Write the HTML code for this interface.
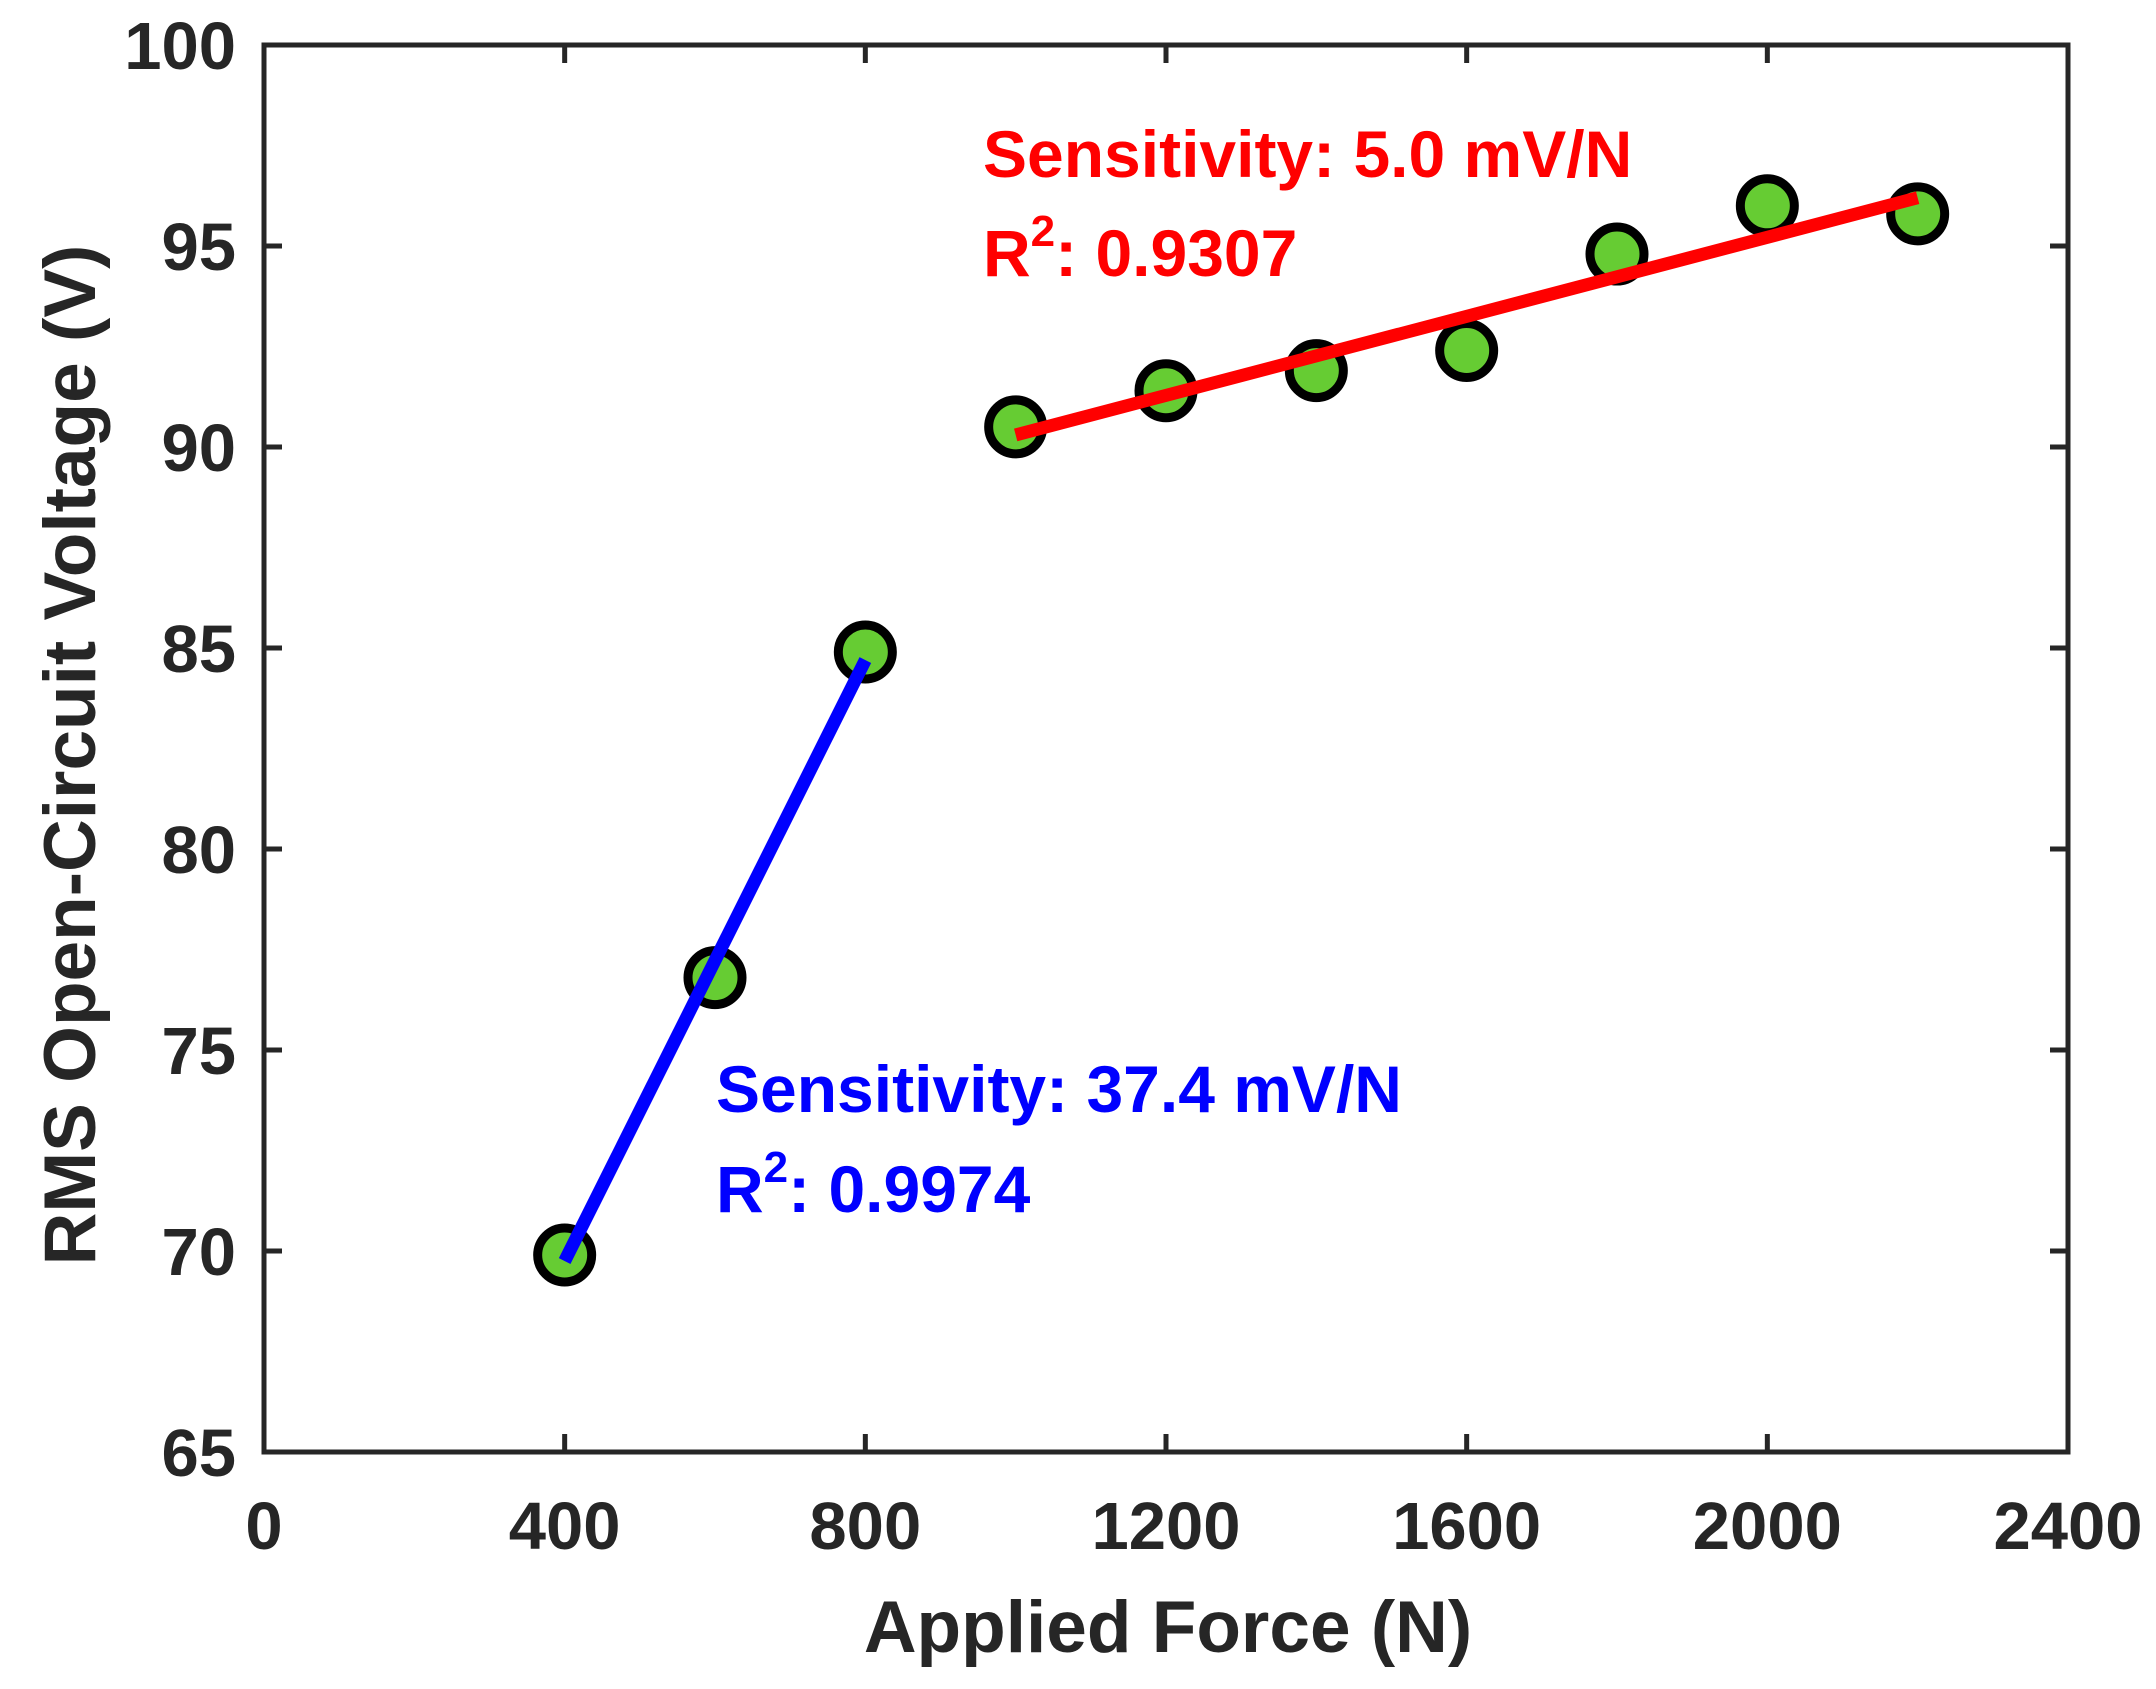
<!DOCTYPE html>
<html><head><meta charset="utf-8"><style>
html,body{margin:0;padding:0;background:#fff;}
svg{display:block;font-family:"Liberation Sans",Arial,sans-serif;font-weight:bold;}
</style></head><body>
<svg id="chart" width="2156" height="1689" viewBox="0 0 2156 1689" xmlns="http://www.w3.org/2000/svg"></svg>
<script>
const xTicks = [0, 400, 800, 1200, 1600, 2000, 2400];
const yTicks = [65, 70, 75, 80, 85, 90, 95, 100];
const lowForce = [400, 600, 800];
const lowVoltage = [69.9, 76.8, 84.9];
const highForce = [1000, 1200, 1400, 1600, 1800, 2000, 2200];
const highVoltage = [90.5, 91.4, 91.9, 92.4, 94.8, 96.0, 95.8];
const lowFitX = [400, 800];
const lowFitY = [69.75, 84.7];
const highFitX = [1000, 2200];
const highFitY = [90.3, 96.2];

const L = 264, R = 2068, T = 45, B = 1452;
const xMin = 0, xMax = 2400, yMin = 65, yMax = 100;
const sx = v => L + (v - xMin) / (xMax - xMin) * (R - L);
const sy = v => B - (v - yMin) / (yMax - yMin) * (B - T);
const NS = "http://www.w3.org/2000/svg";
const svg = document.getElementById('chart');
function mk(tag, attrs, parent) {
  const e = document.createElementNS(NS, tag);
  for (const k in attrs) e.setAttribute(k, attrs[k]);
  (parent || svg).appendChild(e);
  return e;
}
const axisColor = '#262626';

xTicks.forEach(v => {
  const x = sx(v);
  const t1 = mk('line', {x1: x, x2: x, y1: B, y2: B - 18, stroke: axisColor, 'stroke-width': 5});
  
  
  const t2 = mk('line', {x1: x, x2: x, y1: T, y2: T + 18, stroke: axisColor, 'stroke-width': 5});
  
  
  const lb = mk('text', {x: x, y: 1549, 'text-anchor': 'middle', 'font-size': 67, fill: axisColor});
  lb.textContent = v;
  
  
});
yTicks.forEach(v => {
  const y = sy(v);
  const t1 = mk('line', {x1: L, x2: L + 18, y1: y, y2: y, stroke: axisColor, 'stroke-width': 5});
  
  
  const t2 = mk('line', {x1: R, x2: R - 18, y1: y, y2: y, stroke: axisColor, 'stroke-width': 5});
  
  
  const lb = mk('text', {x: 236, y: y + 24, 'text-anchor': 'end', 'font-size': 67, fill: axisColor});
  lb.textContent = v;
  
  
});

const box = mk('rect', {x: L, y: T, width: R - L, height: B - T, fill: 'none', stroke: axisColor, 'stroke-width': 5});



const xt = mk('text', {x: 1168, y: 1652, 'text-anchor': 'middle', 'font-size': 73, fill: axisColor});
xt.textContent = 'Applied Force (N)';


const yt = mk('text', {x: 0, y: 0, 'text-anchor': 'middle', 'font-size': 73, fill: axisColor, transform: 'translate(95,755) rotate(-90)'});
yt.textContent = 'RMS Open-Circuit Voltage (V)';



function drawPoints(xs, ys, name) {
  xs.forEach((v, i) => {
    const c = mk('circle', {cx: sx(v), cy: sy(ys[i]), r: 27, fill: '#66cc33', stroke: '#000', 'stroke-width': 9});
    
    
  });
}
drawPoints(lowForce, lowVoltage, 'low-force-point');
drawPoints(highForce, highVoltage, 'high-force-point');

const bl = mk('line', {x1: sx(lowFitX[0]), y1: sy(lowFitY[0]), x2: sx(lowFitX[1]), y2: sy(lowFitY[1]), stroke: '#0000ff', 'stroke-width': 13});


const rl = mk('line', {x1: sx(highFitX[0]), y1: sy(highFitY[0]), x2: sx(highFitX[1]), y2: sy(highFitY[1]), stroke: '#ff0000', 'stroke-width': 13});



function annot(x, y1, y2, color, sens, r2, name) {
  const a = mk('text', {x: x, y: y1, 'font-size': 66, fill: color});
  a.textContent = 'Sensitivity: ' + sens + ' mV/N';
  
  
  const b = mk('text', {x: x, y: y2, 'font-size': 66, fill: color});
  
  
  const t1 = mk('tspan', {}, b); t1.textContent = 'R';
  const t2 = mk('tspan', {dy: -30, 'font-size': 44}, b); t2.textContent = '2';
  const t3 = mk('tspan', {dy: 30}, b); t3.textContent = ': ' + r2;
}
annot(983, 177, 276, '#ff0000', '5.0', '0.9307', 'high-force');
annot(716, 1112, 1212, '#0000ff', '37.4', '0.9974', 'low-force');
</script>
</body></html>
